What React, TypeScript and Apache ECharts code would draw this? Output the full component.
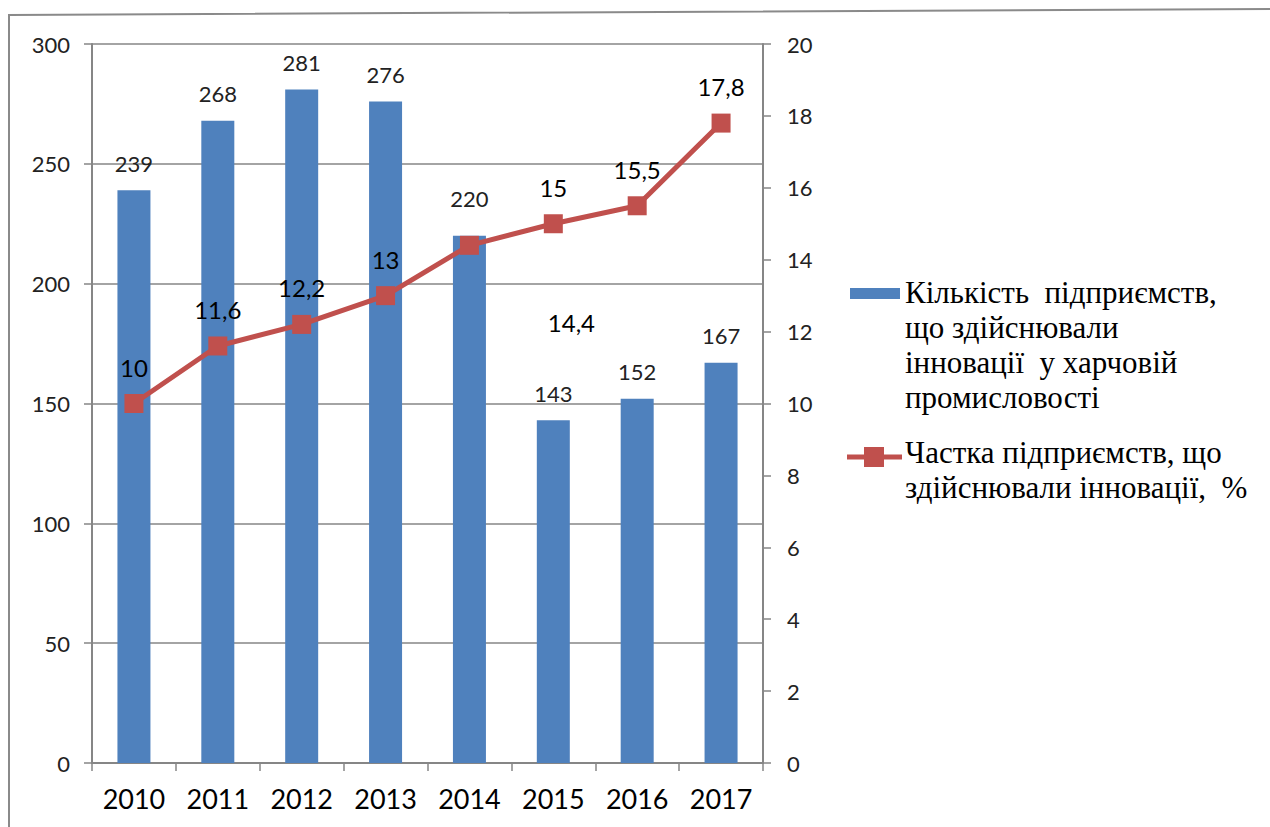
import React, { useEffect, useRef } from "react";
import * as echarts from "echarts";

const years = ["2010", "2011", "2012", "2013", "2014", "2015", "2016", "2017"];
const enterprises = [239, 268, 281, 276, 220, 143, 152, 167];
const sharePct = [10, 11.6, 12.2, 13, 14.4, 15, 15.5, 17.8];
const leftTicks = { min: 0, max: 300, interval: 50 };
const rightTicks = { min: 0, max: 20, interval: 2 };
const legendBar = "Кількість  підприємств,\nщо здійснювали\nінновації  у харчовій\nпромисловості";
const legendLine = "Частка підприємств, що\nздійснювали інновації,  %";

const BLUE = "#4F81BD";
const RED = "#C0504D";
const GRID = "#868686";
const NUM_FONT = "Lato, Open Sans, sans-serif";

export default function App() {
  const ref = useRef<HTMLDivElement>(null);
  useEffect(() => {
    if (!ref.current) return;
    const chart = echarts.init(ref.current, null, { renderer: "svg" });
    const fmt = (p: any) => String(p.value).replace(".", ",");
    const barData = enterprises.map((v, i) =>
      i === 4 ? { value: v, label: { offset: [0, -10] } } : v
    );
    const lineData = sharePct.map((v, i) =>
      i === 4 ? { value: v, label: { offset: [102, 114] } } : v
    );
    const legendTextStyle = {
      font: "31px 'Liberation Serif', 'Times New Roman', 'Liberation Sans', serif",
      lineHeight: 35,
      fill: "#000",
      verticalAlign: "top",
    };
    chart.setOption({
      animation: false,
      backgroundColor: "#fff",
      grid: { left: 92, top: 44, width: 671, height: 719, containLabel: false },
      xAxis: {
        type: "category",
        data: years,
        boundaryGap: true,
        axisLine: { lineStyle: { color: GRID, width: 2 } },
        axisTick: { show: true, length: 8, alignWithLabel: false, lineStyle: { color: GRID, width: 1.5 } },
        axisLabel: {
          margin: 22,
          fontSize: 27,
          fontFamily: NUM_FONT,
          color: "#000",
        },
      },
      yAxis: [
        {
          type: "value",
          ...leftTicks,
          position: "left",
          axisLine: { show: true, lineStyle: { color: GRID, width: 2 } },
          axisTick: { show: true, length: 8, lineStyle: { color: GRID, width: 1.5 } },
          splitLine: { show: true, lineStyle: { color: GRID, width: 1.5 } },
          axisLabel: { margin: 22, fontSize: 22, fontFamily: NUM_FONT, color: "#222" },
        },
        {
          type: "value",
          ...rightTicks,
          position: "right",
          axisLine: { show: true, lineStyle: { color: GRID, width: 2 } },
          axisTick: { show: true, length: 8, lineStyle: { color: GRID, width: 1.5 } },
          splitLine: { show: false },
          axisLabel: { margin: 24, fontSize: 22, fontFamily: NUM_FONT, color: "#222" },
        },
      ],
      series: [
        {
          name: "bars",
          type: "bar",
          yAxisIndex: 0,
          data: barData,
          barWidth: 33,
          itemStyle: { color: BLUE },
          label: {
            show: true,
            position: "top",
            distance: 16,
            fontSize: 22,
            fontFamily: NUM_FONT,
            color: "#222",
            formatter: fmt,
          },
        },
        {
          name: "line",
          type: "line",
          yAxisIndex: 1,
          data: lineData,
          symbol: "rect",
          symbolSize: 19,
          lineStyle: { color: RED, width: 5 },
          itemStyle: { color: RED },
          label: {
            show: true,
            position: "top",
            distance: 15,
            fontSize: 24,
            fontFamily: NUM_FONT,
            color: "#000",
            formatter: fmt,
          },
        },
      ],
      graphic: [
        {
          type: "polyline",
          shape: { points: [[9, 827], [9, 15], [1270, 9]] },
          style: { stroke: "#8a8a8a", lineWidth: 2, fill: "none" },
          silent: true,
        },
        {
          type: "rect",
          shape: { x: 850, y: 288, width: 50, height: 11 },
          style: { fill: BLUE },
        },
        {
          type: "text",
          x: 905,
          y: 275,
          style: { text: legendBar, ...legendTextStyle },
        },
        {
          type: "line",
          shape: { x1: 847, y1: 457, x2: 902, y2: 457 },
          style: { stroke: RED, lineWidth: 5 },
        },
        {
          type: "rect",
          shape: { x: 864, y: 447, width: 20, height: 20 },
          style: { fill: RED },
        },
        {
          type: "text",
          x: 905,
          y: 435,
          style: { text: legendLine, ...legendTextStyle },
        },
      ],
    });
    return () => chart.dispose();
  }, []);
  return (
    <div
      ref={ref}
      style={{ position: "absolute", left: 0, top: 0, width: 1270, height: 827, background: "#fff" }}
    />
  );
}
